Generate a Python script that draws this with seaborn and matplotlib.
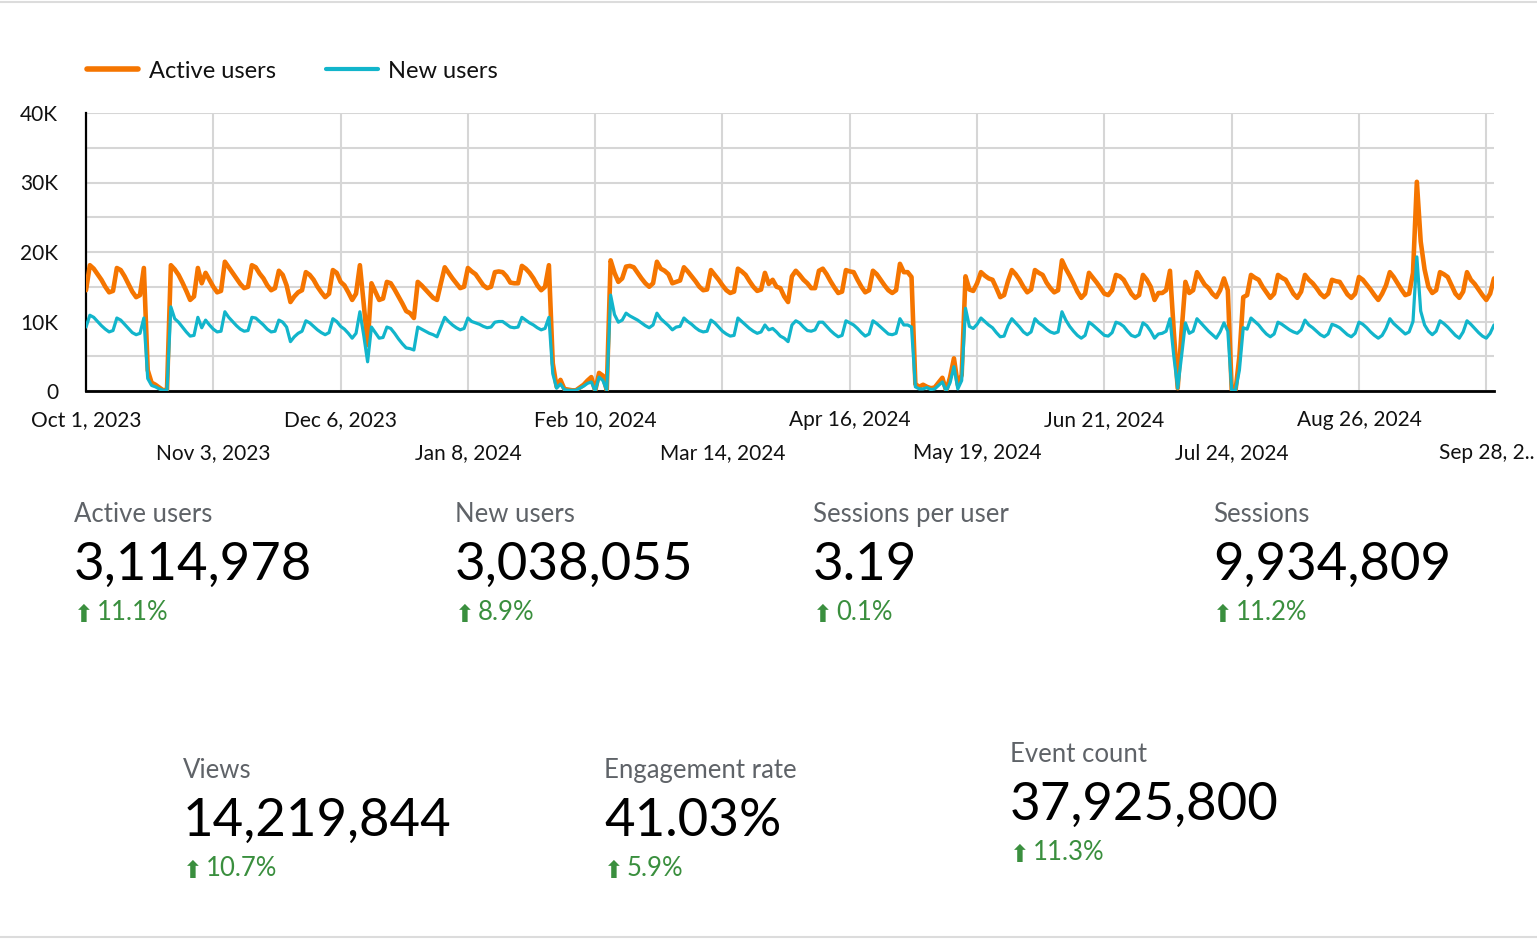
import numpy as np
import pandas as pd
import matplotlib
matplotlib.use("Agg")
import matplotlib.pyplot as plt
import seaborn as sns
from matplotlib.lines import Line2D

# ---------------- data ----------------
START_DATE = "2023-10-01"

# daily values in thousands, one row per week (Sunday .. Saturday)
ACTIVE_USERS_K = [
    14.5, 18.1, 17.6, 16.8, 16.0, 15.0, 14.2,
    14.4, 17.7, 17.4, 16.5, 15.4, 14.3, 13.5,
    13.8, 17.7, 3.0, 1.2, 0.9, 0.5, 0.1,
    0.2, 18.1, 17.5, 16.7, 15.6, 14.4, 13.1,
    13.6, 17.7, 15.5, 17.0, 16.0, 15.0, 14.2,
    14.4, 18.6, 17.8, 17.0, 16.2, 15.4, 14.8,
    15.0, 18.1, 17.8, 16.9, 16.2, 15.2, 14.5,
    14.8, 17.3, 16.7, 15.2, 12.8, 13.6, 14.2,
    14.5, 17.1, 16.7, 16.0, 15.0, 14.2, 13.5,
    14.0, 17.4, 17.0, 15.7, 15.2, 14.2, 13.1,
    14.0, 18.1, 12.5, 6.6, 15.5, 14.3, 13.1,
    13.3, 15.7, 15.5, 14.6, 13.6, 12.6, 11.5,
    11.2, 10.5, 15.7, 15.2, 14.6, 14.0, 13.4,
    13.1, 15.5, 17.8, 17.0, 16.2, 15.5, 14.8,
    15.0, 17.7, 17.2, 16.8, 16.0, 15.2, 14.8,
    15.0, 17.1, 17.2, 17.1, 16.5, 15.6, 15.5,
    15.5, 18.0, 17.6, 17.0, 16.2, 15.2, 14.5,
    15.0, 18.1, 4.0, 0.6, 1.6, 0.3, 0.2,
    0.1, 0.1, 0.5, 0.9, 1.5, 2.0, 0.0,
    2.6, 2.2, 0.1, 18.8, 17.0, 15.7, 16.2,
    17.9, 18.0, 17.8, 17.0, 16.2, 15.5, 15.0,
    15.5, 18.6, 17.6, 17.3, 16.8, 15.5, 15.7,
    15.9, 17.8, 17.2, 16.5, 15.8, 15.0, 14.5,
    14.6, 17.4, 16.7, 16.0, 15.2, 14.5, 14.1,
    14.3, 17.6, 17.2, 16.7, 15.8, 15.0, 14.4,
    14.6, 17.0, 15.4, 16.0, 15.0, 14.8, 13.6,
    12.8, 16.5, 17.3, 16.7, 16.0, 15.5, 14.8,
    14.8, 17.3, 17.6, 16.8, 15.8, 14.9, 14.1,
    14.3, 17.4, 17.2, 17.1, 16.0, 15.0, 14.2,
    14.5, 17.3, 16.8, 16.0, 15.2, 14.5, 14.1,
    14.5, 18.3, 17.1, 17.1, 16.4, 1.0, 0.6,
    0.9, 0.6, 0.4, 0.5, 1.2, 1.9, 0.0,
    2.0, 4.7, 0.9, 2.3, 16.5, 14.6, 14.4,
    15.5, 17.1, 16.6, 16.2, 16.0, 14.8, 13.5,
    13.8, 15.8, 17.4, 16.8, 16.0, 15.0, 14.2,
    14.6, 17.4, 17.0, 16.7, 15.6, 14.8, 14.2,
    14.5, 18.8, 17.6, 16.6, 15.5, 14.3, 13.4,
    14.0, 17.0, 16.3, 15.6, 14.8, 14.0, 13.8,
    14.5, 16.7, 16.5, 16.0, 15.0, 14.0, 13.4,
    13.8, 16.7, 16.0, 15.0, 13.1, 14.1, 14.1,
    14.5, 17.3, 8.5, 0.4, 8.5, 15.7, 14.1,
    14.5, 17.1, 16.2, 15.3, 14.8, 14.0, 13.5,
    14.5, 16.2, 14.5, 0.2, 0.1, 5.0, 13.5,
    13.8, 16.7, 16.3, 16.0, 15.0, 14.2, 13.4,
    14.0, 16.7, 16.3, 16.0, 15.0, 14.0, 13.4,
    14.3, 16.7, 16.0, 15.5, 14.8, 14.0, 13.5,
    14.0, 16.0, 15.8, 15.7, 14.8, 13.9, 13.4,
    14.0, 16.4, 16.0, 15.3, 14.6, 13.8, 13.1,
    14.0, 15.2, 17.1, 16.4, 15.5, 14.6, 13.8,
    14.0, 17.0, 30.1, 21.5, 17.5, 15.0, 14.1,
    14.5, 17.1, 16.8, 16.4, 15.2, 14.0, 13.4,
    14.3, 17.1, 16.0, 15.4, 14.6, 13.8, 13.1,
    14.0, 16.2,
]

NEW_USERS_K = [
    9.2, 10.9, 10.6, 10.0, 9.4, 8.9, 8.5,
    8.7, 10.5, 10.2, 9.6, 9.0, 8.4, 8.1,
    8.3, 10.5, 1.8, 0.8, 0.6, 0.3, 0.1,
    0.1, 12.1, 10.4, 9.9, 9.2, 8.5, 7.9,
    8.0, 10.6, 9.1, 10.2, 9.5, 8.9, 8.5,
    8.6, 11.4, 10.6, 10.0, 9.4, 8.9, 8.6,
    8.7, 10.6, 10.5, 10.0, 9.5, 8.9, 8.5,
    8.6, 10.2, 9.9, 9.2, 7.1, 7.8, 8.3,
    8.6, 10.1, 9.8, 9.3, 8.8, 8.4, 8.1,
    8.4, 10.4, 10.0, 9.3, 8.9, 8.3, 7.6,
    8.3, 11.4, 8.0, 4.2, 9.2, 8.4, 7.6,
    7.7, 9.2, 9.0, 8.3, 7.5, 6.8, 6.2,
    6.1, 5.9, 9.2, 8.9, 8.6, 8.3, 8.1,
    7.8, 9.2, 10.6, 10.0, 9.5, 9.1, 8.8,
    9.0, 10.5, 10.0, 9.8, 9.6, 9.3, 9.1,
    9.2, 9.9, 10.0, 10.0, 9.6, 9.2, 9.1,
    9.2, 10.6, 10.2, 9.8, 9.5, 9.1, 8.8,
    9.0, 10.6, 2.5, 0.4, 1.0, 0.2, 0.1,
    0.1, 0.1, 0.4, 0.7, 1.1, 1.3, 0.0,
    2.0, 1.5, 0.1, 13.8, 11.0, 9.9, 10.2,
    11.2, 10.8, 10.5, 10.2, 9.8, 9.4, 9.1,
    9.5, 11.2, 10.4, 9.9, 9.4, 8.8, 9.2,
    9.3, 10.5, 10.0, 9.6, 9.1, 8.7, 8.5,
    8.6, 10.2, 9.8, 9.2, 8.6, 8.2, 7.9,
    8.0, 10.5, 10.0, 9.5, 9.0, 8.6, 8.3,
    8.5, 9.5, 8.8, 9.0, 8.5, 7.9, 7.6,
    7.1, 9.5, 10.1, 9.8, 9.2, 8.7, 8.6,
    8.8, 9.9, 9.9, 9.3, 8.7, 8.2, 7.8,
    8.0, 10.1, 9.8, 9.5, 9.0, 8.4, 7.9,
    8.2, 10.1, 9.7, 9.2, 8.7, 8.2, 8.1,
    8.3, 10.4, 9.5, 9.5, 9.2, 0.6, 0.3,
    0.3, 0.5, 0.2, 0.3, 0.8, 1.3, 0.0,
    1.2, 3.5, 0.3, 1.5, 11.9, 9.3, 9.0,
    9.6, 10.5, 10.0, 9.5, 9.1, 8.4, 7.8,
    7.9, 9.4, 10.4, 9.8, 9.2, 8.5, 8.1,
    8.5, 10.4, 9.8, 9.4, 8.9, 8.5, 8.3,
    8.5, 11.4, 10.2, 9.3, 8.6, 8.0, 7.6,
    8.0, 9.9, 9.5, 9.0, 8.5, 8.0, 7.9,
    8.4, 9.9, 9.7, 9.3, 8.6, 8.0, 7.8,
    8.1, 9.8, 9.4, 8.6, 7.6, 8.2, 8.3,
    8.6, 10.4, 5.0, 0.4, 5.0, 9.8, 8.3,
    8.6, 10.4, 9.8, 9.2, 8.6, 8.1, 7.6,
    8.5, 9.8, 8.6, 0.1, 0.1, 3.0, 9.1,
    8.9, 10.5, 10.0, 9.5, 8.8, 8.2, 7.8,
    8.2, 9.9, 9.6, 9.2, 8.8, 8.5, 8.3,
    8.8, 10.2, 9.5, 9.1, 8.6, 8.1, 7.8,
    8.2, 9.6, 9.4, 9.1, 8.6, 8.1, 7.8,
    8.3, 9.9, 9.6, 9.1, 8.5, 8.0, 7.6,
    8.0, 9.0, 10.4, 9.7, 9.2, 8.7, 8.2,
    8.5, 10.0, 19.3, 11.5, 9.5, 8.6, 8.1,
    8.6, 10.1, 9.7, 9.2, 8.6, 8.0, 7.6,
    8.5, 10.1, 9.6, 9.0, 8.4, 7.9, 7.6,
    8.3, 9.5,
]

SERIES_NAMES = ["Active users", "New users"]
SERIES_COLORS = ["#F57500", "#12B5CB"]

TICK_DATES = ["2023-10-01", "2023-11-03", "2023-12-06", "2024-01-08",
              "2024-02-10", "2024-03-14", "2024-04-16", "2024-05-19",
              "2024-06-21", "2024-07-24", "2024-08-26", "2024-09-28"]
TICK_LABELS = ["Oct 1, 2023", "Nov 3, 2023", "Dec 6, 2023", "Jan 8, 2024",
               "Feb 10, 2024", "Mar 14, 2024", "Apr 16, 2024", "May 19, 2024",
               "Jun 21, 2024", "Jul 24, 2024", "Aug 26, 2024", "Sep 28, 2.."]
Y_TICKS = [0, 10000, 20000, 30000, 40000]
Y_LABELS = ["0", "10K", "20K", "30K", "40K"]

KPI_LABELS = ["Active users", "New users", "Sessions per user", "Sessions",
              "Views", "Engagement rate", "Event count"]
KPI_VALUES = ["3,114,978", "3,038,055", "3.19", "9,934,809",
              "14,219,844", "41.03%", "37,925,800"]
KPI_CHANGES = ["11.1%", "8.9%", "0.1%", "11.2%", "10.7%", "5.9%", "11.3%"]

# ---------------- style ----------------
W, H = 1537, 939
sns.set_theme(style="white")
plt.rcParams["font.family"] = ["Lato", "DejaVu Sans"]

fig = plt.figure(figsize=(W / 100, H / 100), dpi=100)
fig.patch.set_facecolor("white")


def fx(px):
    return px / W


def fy(py):
    return 1 - py / H


ax_left, ax_right, ax_top, ax_bottom = 86, 1494, 113, 391
ax = fig.add_axes([fx(ax_left), fy(ax_bottom), (ax_right - ax_left) / W,
                   (ax_bottom - ax_top) / H])
ax.set_facecolor("white")

dates = pd.date_range(START_DATE, periods=len(ACTIVE_USERS_K), freq="D")
df_active = pd.DataFrame({"date": dates, "users": np.array(ACTIVE_USERS_K) * 1000})
df_new = pd.DataFrame({"date": dates, "users": np.array(NEW_USERS_K) * 1000})

sns.lineplot(data=df_active, x="date", y="users", color=SERIES_COLORS[0],
             linewidth=3.3, ax=ax, zorder=3)
sns.lineplot(data=df_new, x="date", y="users", color=SERIES_COLORS[1],
             linewidth=2.3, ax=ax, zorder=4)

ax.set_xlim(dates[0], dates[-1])
ax.set_ylim(0, 40000)
ax.set_xlabel("")
ax.set_ylabel("")

ax.set_yticks(Y_TICKS)
ax.set_yticklabels(Y_LABELS)
ax.set_yticks(np.arange(5000, 40000, 10000), minor=True)

tick_pos = pd.to_datetime(TICK_DATES)
ax.set_xticks(tick_pos)
ax.set_xticklabels([lab if i % 2 == 0 else "\n" + lab for i, lab in enumerate(TICK_LABELS)],
                   linespacing=1.8)

ax.grid(True, which="major", axis="both", color="#d6d6d6", linewidth=1.5)
ax.grid(True, which="minor", axis="y", color="#d6d6d6", linewidth=1.5)
ax.set_axisbelow(True)

ax.tick_params(axis="x", length=0, pad=14, labelsize=15, labelcolor="#111111")
ax.tick_params(axis="y", length=0, pad=20, labelsize=15, labelcolor="#111111")
ax.tick_params(axis="y", which="minor", length=0)

for s in ["top", "right"]:
    ax.spines[s].set_visible(False)
ax.spines["left"].set_color("black")
ax.spines["left"].set_linewidth(1.6)
ax.spines["bottom"].set_color("black")
ax.spines["bottom"].set_linewidth(2.0)

# legend
handles = [Line2D([0], [0], color=SERIES_COLORS[0], lw=4.0),
           Line2D([0], [0], color=SERIES_COLORS[1], lw=3.0)]
fig.legend(handles, SERIES_NAMES, loc="center left",
           bbox_to_anchor=(fx(70), fy(71)), ncol=2, frameon=False,
           fontsize=17, handlelength=2.2, handletextpad=0.45,
           columnspacing=2.1, borderpad=0.2, labelcolor="#111111")

# KPI tiles
kpi_pos = [  # (x, label baseline, value baseline, change baseline)
    (74, 522, 580, 620),
    (455, 522, 580, 620),
    (813, 522, 580, 620),
    (1213, 522, 580, 620),
    (183, 778, 836, 876),
    (604, 778, 836, 876),
    (1010, 762, 820, 860),
]
GREEN = "#3A8F3E"
for (x, yl, yv, yc), lab, val, chg in zip(kpi_pos, KPI_LABELS, KPI_VALUES, KPI_CHANGES):
    fig.text(fx(x), fy(yl), lab, fontsize=18.5, color="#5f6368", va="baseline", ha="left")
    fig.text(fx(x), fy(yv), val, fontsize=38, color="black", va="baseline", ha="left")
    fig.text(fx(x), fy(yc + 2), "\u2B06", fontsize=17, color=GREEN, va="baseline",
             ha="left", family=["DejaVu Sans"])
    fig.text(fx(x + 23), fy(yc), chg, fontsize=18.5, color=GREEN, va="baseline", ha="left")

# frame lines
fig.add_artist(Line2D([0, 1], [fy(1.5), fy(1.5)], color="#dcdcdc", lw=1.5,
                      transform=fig.transFigure))
fig.add_artist(Line2D([0, 1], [fy(937), fy(937)], color="#dcdcdc", lw=1.5,
                      transform=fig.transFigure))

fig.savefig("out.png", dpi=100, facecolor="white")
